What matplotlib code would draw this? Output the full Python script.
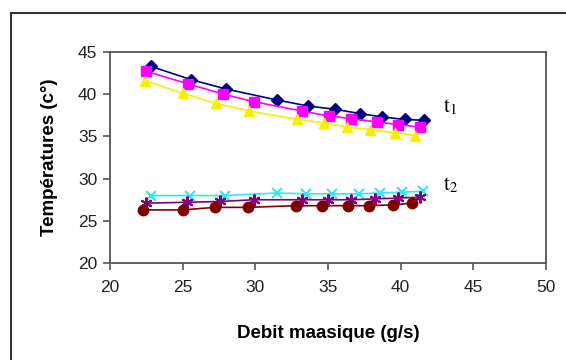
#!/usr/bin/env python
# -*- coding: utf-8 -*-

import matplotlib
matplotlib.use('Agg')
import matplotlib.pyplot as plt
import matplotlib.lines as ml

# t1 series (upper group)
x_navy = [22.8, 25.6, 28.0, 31.5, 33.6, 35.5, 37.2, 38.7, 40.3, 41.6]
y_navy = [43.3, 41.7, 40.6, 39.3, 38.6, 38.2, 37.7, 37.3, 37.0, 36.9]
x_mag = [22.5, 25.4, 27.8, 29.9, 33.2, 35.1, 36.6, 38.4, 39.8, 41.3]
y_mag = [42.7, 41.2, 40.0, 39.1, 38.0, 37.4, 37.1, 36.7, 36.4, 36.1]
x_yel = [22.4, 25.0, 27.3, 29.6, 32.9, 34.7, 36.3, 37.9, 39.6, 41.0]
y_yel = [41.6, 40.1, 38.9, 38.0, 37.0, 36.6, 36.1, 35.8, 35.4, 35.1]

# t2 series (lower group)
x_cyan = [22.8, 25.5, 27.9, 31.5, 33.5, 35.3, 37.1, 38.6, 40.1, 41.5]
y_cyan = [28.0, 28.0, 28.0, 28.3, 28.2, 28.2, 28.2, 28.3, 28.4, 28.5]
x_pur = [22.5, 25.3, 27.6, 29.9, 33.2, 35.0, 36.6, 38.2, 39.8, 41.3]
y_pur = [27.1, 27.2, 27.3, 27.5, 27.5, 27.5, 27.5, 27.6, 27.7, 27.8]
x_red = [22.3, 25.0, 27.2, 29.5, 32.8, 34.6, 36.4, 37.8, 39.5, 40.8]
y_red = [26.3, 26.3, 26.6, 26.6, 26.8, 26.8, 26.8, 26.8, 26.9, 27.1]

xticks = [20, 25, 30, 35, 40, 45, 50]
yticks = [20, 25, 30, 35, 40, 45]


def main():
    plt.rcParams['font.family'] = ['Liberation Sans', 'DejaVu Sans']
    plt.rcParams['mathtext.fontset'] = 'stix'
    fig = plt.figure(figsize=(5.66, 3.6), dpi=100)
    ax = fig.add_axes([0.194, 0.269, 0.771, 0.587])

    # upper curves
    ax.plot(x_navy, y_navy, color='#000080', marker='D', ms=6.5, lw=1.2)
    ax.plot(x_mag, y_mag, color='#ff00ff', marker='s', ms=6.5, lw=1.2)
    ax.plot(x_yel, y_yel, color='#f5ef00', marker='^', ms=7.5, lw=1.2)
    # lower curves
    ax.plot(x_cyan, y_cyan, color='#30e8f0', marker='x', ms=7.5, mew=1.5, lw=1.2)
    ax.plot(x_pur, y_pur, color='#800080', marker=(6, 2, 0), ms=8.5, mew=1.5, lw=1.2)
    ax.plot(x_red, y_red, color='#800000', marker='o', ms=7.5, lw=1.2)

    ax.text(42.9, 37.8, r'$\mathrm{t}_1$', fontsize=15)
    ax.text(42.9, 28.6, r'$\mathrm{t}_2$', fontsize=15)

    # range
    ax.set_xlim(20, 50)
    ax.set_ylim(20, 45)
    ax.set_xticks(xticks)
    ax.set_yticks(yticks)

    # tune
    for s in ax.spines.values():
        s.set_color('#555555')
        s.set_linewidth(1.3)
    ax.tick_params(direction='out', length=5, width=1.2, color='#555555',
                   labelsize=12.5, labelcolor='#222222')
    ax.tick_params(axis='x', pad=7)
    ax.tick_params(axis='y', pad=4)
    ax.set_xlabel('Debit maasique (g/s)', fontsize=13.5, fontweight='bold',
                  labelpad=22)
    ax.set_ylabel('Températures (c°)', fontsize=13.5, fontweight='bold',
                  labelpad=14)

    # outer frame (only left and top edges visible)
    fx = 10.5 / 566.
    fy = 1 - 12.5 / 360.
    fig.add_artist(ml.Line2D([fx, fx], [0, fy], color='#333333', lw=1.5))
    fig.add_artist(ml.Line2D([fx, 1], [fy, fy], color='#333333', lw=1.5))

    plt.savefig('out.png', dpi=100)


if __name__ == '__main__':
    main()
